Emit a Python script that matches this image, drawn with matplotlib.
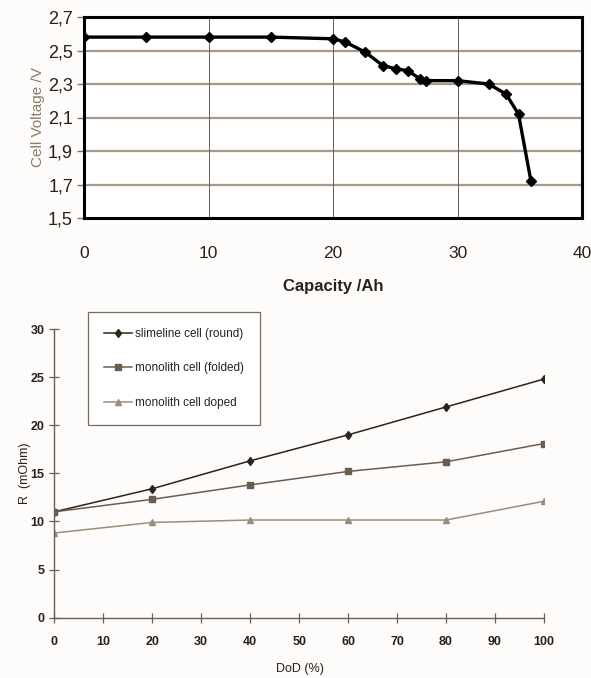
import matplotlib
matplotlib.use('Agg')
import matplotlib.pyplot as plt
from matplotlib.ticker import FuncFormatter

# discharge curve: capacity (Ah) vs cell voltage (V)
capacity = [0, 5, 10, 15, 20, 21, 22.6, 24, 25.1, 26, 27, 27.5, 30, 32.5, 33.9, 34.9, 35.9]
voltage = [2.58, 2.58, 2.58, 2.58, 2.57, 2.55, 2.49, 2.41, 2.39, 2.38, 2.33, 2.32, 2.32, 2.30, 2.24, 2.12, 1.72]

# internal resistance vs depth of discharge
dod = [0, 20, 40, 60, 80, 100]
r_slimeline = [11.0, 13.4, 16.3, 19.0, 21.9, 24.8]
r_folded = [11.0, 12.3, 13.8, 15.2, 16.2, 18.1]
r_doped = [8.8, 9.9, 10.15, 10.15, 10.15, 12.1]

volt_ticks = [1.5, 1.7, 1.9, 2.1, 2.3, 2.5, 2.7]
cap_ticks = [0, 10, 20, 30, 40]
r_ticks = [0, 5, 10, 15, 20, 25, 30]
dod_ticks = [0, 10, 20, 30, 40, 50, 60, 70, 80, 90, 100]

ink = '#2a2119'
narrow = ['Liberation Sans Narrow', 'Liberation Sans', 'DejaVu Sans']
plt.rcParams['font.family'] = ['Liberation Sans', 'DejaVu Sans']

W, H = 591, 678
fig = plt.figure(figsize=(W / 100, H / 100), dpi=100)
fig.patch.set_facecolor('#fdfcfa')

def box(x0, y0, x1, y1):
    return [x0 / W, 1 - y1 / H, (x1 - x0) / W, (y1 - y0) / H]

# ---- top: discharge curve
ax1 = fig.add_axes(box(84, 17, 582, 218))
ax1.set_facecolor('white')
ax1.plot(capacity, voltage, color='black', lw=2.4, marker='D', ms=5.5, zorder=3)
ax1.set_xlim(0, 40)
ax1.set_ylim(1.5, 2.7)
ax1.set_xticks(cap_ticks)
ax1.set_yticks(volt_ticks)
ax1.yaxis.set_major_formatter(FuncFormatter(lambda v, p: ('%.1f' % v).replace('.', ',')))
for y in volt_ticks[1:-1]:
    ax1.axhline(y, color='#a8998a', lw=1.6, zorder=1)
for x in cap_ticks[1:-1]:
    ax1.axvline(x, color='#6e6050', lw=0.7, zorder=1)
for s in ax1.spines.values():
    s.set_linewidth(2.2)
    s.set_color('black')
ax1.tick_params(axis='y', direction='out', length=5, width=1, color='#777', pad=3,
                labelsize=13, labelcolor=ink)
ax1.tick_params(axis='x', length=0, pad=20, labelsize=12.5, labelcolor=ink)
for lab in ax1.get_xticklabels() + ax1.get_yticklabels():
    lab.set_fontweight('medium')
ax1.set_ylabel('Cell Voltage /V', family=narrow, fontsize=11, color='#8c7c68', labelpad=2)
fig.text(333 / W, 1 - 286 / H, 'Capacity /Ah', ha='center', va='center',
         fontsize=12, fontweight='bold', color=ink)

# ---- bottom: resistance vs DoD
ax2 = fig.add_axes(box(54.3, 329, 544, 617.7))
ax2.set_facecolor('none')
ax2.plot(dod, r_slimeline, color='#2e241b', lw=1.1, marker='d', ms=4.5,
         label='slimeline cell (round)')
ax2.plot(dod, r_folded, color='#6b5c4d', lw=1.1, marker='s', ms=4,
         label='monolith cell (folded)')
ax2.plot(dod, r_doped, color='#9c8c7a', lw=1.1, marker='^', ms=4,
         label='monolith cell doped')
ax2.set_xlim(0, 100)
ax2.set_ylim(0, 30)
ax2.set_xticks(dod_ticks)
ax2.set_yticks(r_ticks)
ax2.spines['top'].set_visible(False)
ax2.spines['right'].set_visible(False)
for s in ('left', 'bottom'):
    ax2.spines[s].set_color('#6e6050')
    ax2.spines[s].set_linewidth(1.0)
ax2.tick_params(axis='both', direction='inout', length=7, width=0.9, color='#6e6050',
                labelsize=9, labelcolor=ink)
ax2.tick_params(axis='x', pad=10)
for lab in ax2.get_xticklabels() + ax2.get_yticklabels():
    lab.set_fontweight('bold')
ax2.set_ylabel('R  (mOhm)', family=narrow, fontsize=9, color=ink, labelpad=0)
fig.text(300 / W, 1 - 669 / H, 'DoD (%)', ha='center', va='center',
         family=narrow, fontsize=9, color=ink)

leg = ax2.legend(loc='upper left', bbox_to_anchor=(88 / W, 1 - 312 / H),
                 bbox_transform=fig.transFigure, fancybox=False, framealpha=1,
                 edgecolor='#7a6c5c', handlelength=2.4, handletextpad=0.2,
                 labelspacing=1.9, borderpad=1.35, borderaxespad=0,
                 prop={'family': narrow, 'size': 8.5})
leg.get_frame().set_linewidth(0.9)
for t in leg.get_texts():
    t.set_color(ink)

fig.savefig('out.png', dpi=100, facecolor=fig.get_facecolor())
